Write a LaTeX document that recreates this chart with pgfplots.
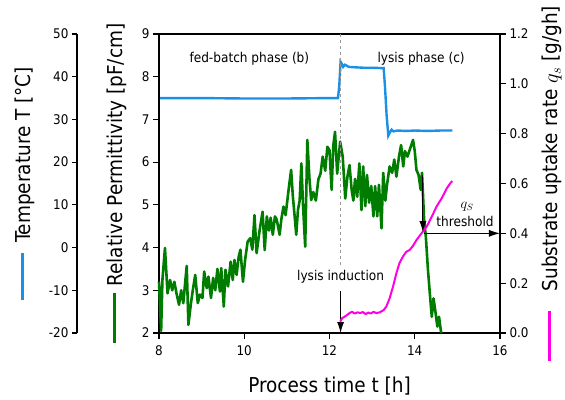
\documentclass[border=0pt]{standalone}
\usepackage{pgfplots}
\pgfplotsset{compat=1.18}
\usepackage{fontspec}
\setmainfont{DejaVu Sans Condensed}
\usetikzlibrary{arrows.meta}
\definecolor{tblue}{RGB}{25,145,230}
\definecolor{pgreen}{RGB}{0,125,0}
\definecolor{qmag}{RGB}{255,0,230}
\newcommand{\tickfont}{\fontsize{13.3}{16}\selectfont}
\newcommand{\labfont}{\fontsize{20.5}{24}\selectfont}
\newcommand{\annfont}{\fontsize{13.5}{16}\selectfont}
\pgfplotsset{
  common/.style={scale only axis, width=341pt, height=299pt, xmin=8, xmax=16,
    /pgf/number format/assume math mode=true,
    tick label style={font=\tickfont}, label style={font=\labfont},
    tick align=outside, major tick length=6pt,
    axis line style={line width=1.2pt},
    every tick/.style={black, line width=1.1pt}, clip=false},
}
\begin{document}
\begin{tikzpicture}
\useasboundingbox (-159pt,-66pt) rectangle (406pt,333pt);
% temperature scale
\begin{axis}[scale only axis, width=10pt, height=299pt, at={(-82pt,0pt)}, anchor=south west,
  xmin=0, xmax=1, ymin=-20, ymax=50, ytick={-20,-10,...,50},
  hide x axis, axis y line*=left,
  /pgf/number format/assume math mode=true,
  tick label style={font=\tickfont}, label style={font=\labfont},
  tick align=outside, major tick length=5pt,
  axis line style={line width=1.2pt},
  every tick/.style={black, line width=1.1pt},
  ylabel={\textcolor{tblue}{\rule[0.33em]{47pt}{2.5pt}}\hspace{10pt}Temperature T [°C]},
  ylabel style={at={([xshift=-52pt]axis description cs:0,0.5)}, anchor=center, rotate=0}]
\addplot[draw=none] coordinates {(0,0)};
\end{axis}
% temperature data
\begin{axis}[common, hide axis, ymin=-20, ymax=50]
\addplot[tblue, line width=2.4pt] coordinates {
(8.0,35.0) (9,35.0) (10,34.9) (11,34.9) (12,35.0) (12.2,35.0) (12.23,38) (12.26,43.5) (12.29,43.0)
(12.32,42.3) (12.36,42.8) (12.40,42.6) (12.45,42.3) (12.6,42.2) (12.8,42.1) (13.0,42.1) (13.27,42.0)
(13.30,38) (13.34,31) (13.38,26.2) (13.42,27.0) (13.46,27.6) (13.50,27.2) (13.6,27.4) (13.8,27.3)
(14.0,27.4) (14.3,27.3) (14.6,27.4) (14.88,27.4)};
\end{axis}
% permittivity (main)
\begin{axis}[common, ymin=2, ymax=9, ytick={2,...,9}, xtick={8,10,...,16},
  xtick pos=bottom, ytick pos=left,
  xticklabel style={yshift=-3.5pt},
  xlabel={Process time t [h]},
  xlabel style={at={([yshift=-53pt]axis description cs:0.5,0)}, anchor=center},
  ylabel={\textcolor{pgreen}{\rule[0.33em]{50pt}{2.5pt}}\hspace{7pt}Relative Permittivity [pF/cm]},
  ylabel style={at={([xshift=-42pt]axis description cs:0,0.5)}, anchor=center}]
\addplot[pgreen, line width=2.6pt, line join=round] coordinates {
(8.00,3.20) (8.05,2.05) (8.08,3.24) (8.14,3.99) (8.20,2.93) (8.26,3.24) (8.31,3.00) (8.36,3.20)
(8.41,2.93) (8.47,2.66) (8.52,3.00) (8.57,2.70) (8.65,3.57) (8.69,2.19) (8.75,2.70) (8.79,2.98)
(8.85,3.36) (8.91,2.70) (8.96,2.90) (9.02,2.82) (9.06,3.44) (9.12,3.05) (9.16,3.32) (9.22,2.82)
(9.27,3.29) (9.32,3.00) (9.37,3.50) (9.43,2.97) (9.46,3.52) (9.52,2.62) (9.56,3.48) (9.62,3.09)
(9.68,3.67) (9.73,3.24) (9.77,3.71) (9.82,3.36) (9.87,3.79) (9.91,3.95) (9.97,3.20) (10.02,3.71)
(10.08,4.14) (10.14,4.22) (10.19,3.95) (10.24,4.76) (10.29,3.87) (10.36,4.40) (10.43,4.84) (10.48,3.94)
(10.53,4.73) (10.58,4.40) (10.62,4.70) (10.67,4.30) (10.72,4.73) (10.76,4.66) (10.83,4.30) (10.87,4.66)
(10.92,4.96) (10.97,4.76) (11.04,5.35) (11.10,5.82) (11.14,5.20) (11.18,4.76) (11.22,4.30) (11.26,4.88)
(11.30,5.10) (11.34,5.97) (11.38,4.97) (11.43,4.02) (11.48,6.52) (11.53,5.61) (11.57,5.11) (11.62,5.30)
(11.68,5.10) (11.74,5.60) (11.79,5.73) (11.84,6.13) (11.90,5.80) (11.95,6.36) (12.00,6.28) (12.05,5.35)
(12.09,6.40) (12.13,6.71) (12.18,5.73) (12.25,6.48) (12.31,6.13) (12.37,5.15) (12.42,5.66) (12.47,5.93)
(12.52,5.35) (12.56,5.10) (12.60,5.61) (12.65,5.19) (12.70,5.97) (12.75,4.88) (12.79,5.90) (12.84,4.97)
(12.88,5.70) (12.93,5.05) (12.98,5.44) (13.03,4.73) (13.07,5.44) (13.12,4.73) (13.16,5.47) (13.22,4.45)
(13.26,5.75) (13.31,5.10) (13.35,5.47) (13.41,5.90) (13.47,5.75) (13.52,6.06) (13.57,5.66) (13.63,6.13)
(13.68,6.40) (13.73,5.90) (13.77,6.26) (13.83,6.13) (13.88,6.28) (13.96,6.52) (14.00,6.26) (14.04,5.82)
(14.09,5.70) (14.14,5.35) (14.17,5.75) (14.22,4.65) (14.26,4.26) (14.31,3.48) (14.36,2.85) (14.40,2.38)
(14.44,2.81) (14.48,2.54) (14.53,2.15) (14.57,2.38) (14.62,2.00)};
\draw[gray!80, dashed, line width=0.8pt] (axis cs:12.26,9) -- (axis cs:12.26,3.58);
\node[font=\annfont] at (axis cs:12.26,3.31) {lysis induction};
\draw[line width=1pt, -{Latex[length=11pt,width=7pt]}] (axis cs:12.26,2.98) -- (axis cs:12.26,2.0);
\node[font=\annfont] at (axis cs:10.12,8.42) {fed-batch phase (b)};
\node[font=\annfont] at (axis cs:14.15,8.42) {lysis phase (c)};
\end{axis}
% substrate uptake rate
\begin{axis}[common, hide x axis, axis y line*=right, ymin=0, ymax=1.2,
  ytick={0,0.2,...,1.2},
  yticklabel style={/pgf/number format/.cd, fixed, fixed zerofill, precision=1},
  ylabel={\textcolor{qmag}{\rule[0.33em]{50pt}{2.5pt}}\hspace{20pt}Substrate uptake rate $q_s$ [g/gh]},
  ylabel style={at={([xshift=52pt]axis description cs:1,0.5)}, anchor=center}]
\addplot[qmag, line width=2pt, line join=round] coordinates {
(12.25,0.045) (12.30,0.060) (12.35,0.065) (12.41,0.072) (12.47,0.080) (12.53,0.085) (12.59,0.078)
(12.66,0.083) (12.72,0.080) (12.78,0.084) (12.85,0.076) (12.91,0.082) (12.97,0.078) (13.03,0.085)
(13.10,0.080) (13.18,0.083) (13.27,0.092) (13.33,0.105) (13.41,0.139) (13.49,0.186) (13.57,0.240)
(13.64,0.280) (13.72,0.306) (13.80,0.326) (13.88,0.333) (13.96,0.350) (14.04,0.373) (14.16,0.400)
(14.28,0.427) (14.40,0.467) (14.51,0.507) (14.63,0.540) (14.75,0.580) (14.83,0.600) (14.88,0.610)};
\draw[line width=1pt, -{Latex[length=11pt,width=7pt]}] (axis cs:14.19,0.634) -- (axis cs:14.19,0.405);
\draw[line width=1pt, -{Latex[length=11pt,width=7pt]}] (axis cs:14.22,0.40) -- (axis cs:16,0.40);
\node[font=\annfont] at (axis cs:15.23,0.506) {$q_S$};
\node[font=\annfont] at (axis cs:15.18,0.446) {threshold};
\end{axis}
\end{tikzpicture}
\end{document}
